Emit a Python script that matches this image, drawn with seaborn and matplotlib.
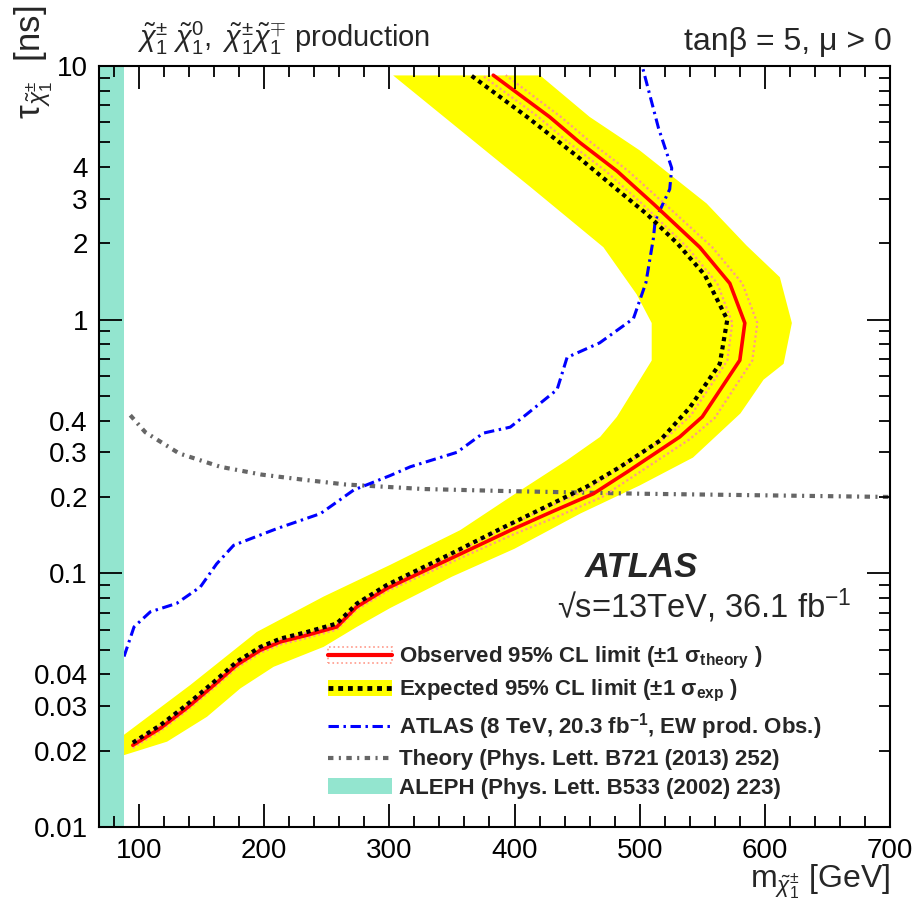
import matplotlib
matplotlib.use('Agg')
import matplotlib.pyplot as plt
import seaborn as sns
from matplotlib.lines import Line2D
from matplotlib.patches import Patch, Rectangle
from matplotlib.collections import LineCollection
from matplotlib.transforms import blended_transform_factory

# observed 95% CL limit (chargino mass [GeV], lifetime [ns])
obs_m = [95, 117, 138, 160, 178, 197, 213, 234, 258, 274, 298, 350, 397, 430, 463, 490,
         532, 550, 580, 584, 572, 548, 511, 482, 452, 428, 383]
obs_tau = [0.021, 0.0245, 0.0294, 0.0363, 0.0435, 0.0498, 0.0537, 0.057, 0.0615, 0.0738,
           0.0872, 0.115, 0.148, 0.175, 0.206, 0.251, 0.345, 0.414, 0.692, 0.97, 1.39,
           1.93, 2.86, 3.85, 5.0, 6.3, 9.2]

# observed +1 sigma theory
obs_up_m = [95, 117, 138, 160, 178, 197, 213, 234, 258, 274, 298, 350, 400, 435, 470, 497,
            540, 560, 590, 594, 582, 558, 520, 491, 461, 437, 393]
obs_up_tau = [0.0205, 0.0239, 0.0287, 0.0354, 0.0424, 0.0486, 0.0524, 0.0556, 0.06, 0.072,
              0.085, 0.111, 0.143, 0.168, 0.2, 0.245, 0.338, 0.41, 0.69, 0.97, 1.39,
              1.93, 2.86, 3.85, 5.0, 6.3, 9.2]

# observed -1 sigma theory
obs_dn_m = [95, 117, 138, 160, 178, 197, 213, 234, 258, 274, 298, 350, 392, 422, 455, 482,
            524, 541, 570, 574, 562, 538, 502, 473, 443, 419, 374]
obs_dn_tau = [0.0215, 0.0251, 0.0301, 0.0372, 0.0446, 0.051, 0.055, 0.0584, 0.063, 0.0756,
              0.089, 0.119, 0.151, 0.178, 0.21, 0.256, 0.352, 0.42, 0.69, 0.97, 1.39,
              1.93, 2.86, 3.85, 5.0, 6.3, 9.2]

# expected 95% CL limit
exp_m = [95, 117, 138, 160, 178, 197, 213, 234, 258, 274, 298, 350, 389, 420, 458, 484,
         516, 540, 564, 570, 552, 530, 506, 479, 452, 410, 365]
exp_tau = [0.0215, 0.0252, 0.0303, 0.0374, 0.0448, 0.0513, 0.0553, 0.0587, 0.0634, 0.076,
           0.09, 0.12, 0.15, 0.178, 0.22, 0.262, 0.333, 0.45, 0.67, 1.0, 1.5, 2.0, 2.6,
           3.35, 4.33, 6.3, 9.2]

# +-1 sigma expected band: inner (upper-left) and outer (lower-right) edges
band_in_m = [88, 141, 194, 247.5, 300.7, 356.6, 396.6, 441.8, 468.4, 481.8, 509.6, 509.6,
             497.5, 471, 412.5, 383, 303]
band_in_tau = [0.0231, 0.0363, 0.0587, 0.081, 0.108, 0.148, 0.2, 0.279, 0.345, 0.414, 0.69,
               0.97, 1.26, 1.93, 3.34, 4.38, 9.18]
band_out_m = [88, 122.4, 154.3, 181, 207.5, 247.5, 274, 300.7, 350, 400, 452.5, 500, 542.6,
              580.5, 599, 615, 621.6, 612, 585.4, 553.5, 500, 460, 420.5]
band_out_tau = [0.0192, 0.0217, 0.0272, 0.0352, 0.0428, 0.0513, 0.0615, 0.073, 0.097, 0.125,
                0.172, 0.222, 0.286, 0.427, 0.58, 0.67, 0.97, 1.47, 1.96, 2.87, 4.65, 6.3,
                9.18]

# ATLAS 8 TeV observed
atlas8_m = [88, 96, 109, 130, 149, 162, 175.6, 210, 245, 271.5, 300.7, 316.7, 354, 375,
            396.6, 410, 434, 442, 468, 495, 505, 511, 512.4, 524, 525.6, 515, 502]
atlas8_tau = [0.047, 0.0615, 0.0705, 0.0761, 0.0884, 0.109, 0.129, 0.15, 0.172, 0.213,
              0.243, 0.263, 0.30, 0.357, 0.377, 0.425, 0.53, 0.71, 0.81, 1.01, 1.4, 2.1,
              2.46, 3.27, 3.96, 5.7, 10.0]

# theory curve
theory_m = [93, 105, 132, 165, 198, 231, 265, 327, 394, 500, 600, 700]
theory_tau = [0.42, 0.36, 0.297, 0.263, 0.245, 0.234, 0.224, 0.215, 0.211, 0.206, 0.203, 0.2]

aleph_limit = 88

x_major = [100, 200, 300, 400, 500, 600, 700]
x_minor = [m for m in range(80, 701, 20) if m % 100 != 0]
y_major = [0.01, 0.1, 1, 10]
y_major_labels = ['0.01', '0.1', '1', '10']
y_minor = [0.02, 0.03, 0.04, 0.05, 0.06, 0.07, 0.08, 0.09,
           0.2, 0.3, 0.4, 0.5, 0.6, 0.7, 0.8, 0.9,
           2, 3, 4, 5, 6, 7, 8, 9]
y_minor_labels = ['0.02', '0.03', '0.04', '', '', '', '', '',
                  '0.2', '0.3', '0.4', '', '', '', '', '',
                  '2', '3', '4', '', '', '', '', '']

sns.set_theme(style='ticks')
plt.rcParams['font.family'] = ['Liberation Sans', 'DejaVu Sans']
plt.rcParams['mathtext.fontset'] = 'custom'
plt.rcParams['mathtext.rm'] = 'Liberation Sans'
plt.rcParams['mathtext.it'] = 'Liberation Sans:italic'
plt.rcParams['mathtext.bf'] = 'Liberation Sans:bold'

fig = plt.figure(figsize=(9.15, 9.11), dpi=100)
ax = fig.add_axes([99 / 915, 84 / 911, 791 / 915, 761 / 911])

yellow = '#ffff00'
aleph_col = '#93e5cf'
salmon = '#ff9a8a'

# expected band
ax.fill(band_in_m + band_out_m[::-1], band_in_tau + band_out_tau[::-1],
        color=yellow, lw=0, zorder=1)

sns.lineplot(x=theory_m, y=theory_tau, sort=False, estimator=None, ax=ax,
             color='#666666', lw=3, linestyle=(0, (1.3, 1.3, 0.5, 1.3)), zorder=2)
sns.lineplot(x=atlas8_m, y=atlas8_tau, sort=False, estimator=None, ax=ax,
             color='#0000ff', lw=2.2, linestyle=(0, (3.4, 1.5, 0.8, 1.5)), zorder=3)
sns.lineplot(x=obs_up_m, y=obs_up_tau, sort=False, estimator=None, ax=ax,
             color=salmon, lw=1.6, linestyle=(0, (1, 1.2)), zorder=4)
sns.lineplot(x=obs_dn_m, y=obs_dn_tau, sort=False, estimator=None, ax=ax,
             color=salmon, lw=1.6, linestyle=(0, (1, 1.2)), zorder=4)
sns.lineplot(x=obs_m, y=obs_tau, sort=False, estimator=None, ax=ax,
             color='#ff0000', lw=2.6, zorder=5)
sns.lineplot(x=exp_m, y=exp_tau, sort=False, estimator=None, ax=ax,
             color='black', lw=3, linestyle=(0, (1, 1)), zorder=6)

ax.axvspan(60, aleph_limit, color=aleph_col, lw=0, zorder=7)

ax.set_yscale('log')
ax.set_xlim(68, 700)
ax.set_ylim(0.01, 10)
ax.set_xticks(x_major)
ax.set_xticklabels([str(v) for v in x_major])
ax.set_xticks([], minor=True)
ax.set_yticks(y_major)
ax.set_yticklabels(y_major_labels)
ax.set_yticks(y_minor, minor=True)
ax.set_yticklabels(y_minor_labels, minor=True)

# tick labels from matplotlib; inward tick marks (ROOT style) drawn on top at figure level
ax.tick_params(which='both', direction='in', length=0, labelsize=20, pad=8,
               colors='black')
bx = blended_transform_factory(ax.transData, ax.transAxes)
by = blended_transform_factory(ax.transAxes, ax.transData)
maj_x, min_x = 23 / 761, 11 / 761
maj_y, min_y = 23 / 791, 11 / 791
segs_x = ([[(x, 0), (x, maj_x)] for x in x_major] +
          [[(x, 1 - maj_x), (x, 1)] for x in x_major] +
          [[(x, 0), (x, min_x)] for x in x_minor] +
          [[(x, 1 - min_x), (x, 1)] for x in x_minor])
segs_y = ([[(0, y), (maj_y, y)] for y in y_major] +
          [[(1 - maj_y, y), (1, y)] for y in y_major] +
          [[(0, y), (min_y, y)] for y in y_minor] +
          [[(1 - min_y, y), (1, y)] for y in y_minor])
fig.add_artist(LineCollection(segs_x, colors='black', linewidths=1.3, transform=bx,
                              zorder=20))
fig.add_artist(LineCollection(segs_y, colors='black', linewidths=1.3, transform=by,
                              zorder=20))

for s in ax.spines.values():
    s.set_linewidth(1.5)
    s.set_color('black')
    s.set_zorder(13)

ax.set_xlabel(r'm$_{\tilde{\chi}^{\pm}_{1}}$ [GeV]', fontsize=23, loc='right')
ax.xaxis.set_label_coords(1.0, -0.047)
ax.set_ylabel(r'τ$_{\tilde{\chi}^{\pm}_{1}}$  [ns]', fontsize=25, loc='top')
ax.yaxis.set_label_coords(-0.056, 1.08)

fig.text(137 / 915, 1 - 47 / 911,
         r'$\tilde{\chi}^{\pm}_{1}\ \tilde{\chi}^{0}_{1},\ \tilde{\chi}^{\pm}_{1}\tilde{\chi}^{\mp}_{1}$ production',
         fontsize=21, ha='left', va='baseline')
fig.text(892 / 915, 1 - 50 / 911, 'tanβ = 5, μ > 0',
         fontsize=23, ha='right', va='baseline')

fig.text(585 / 915, 1 - 577 / 911, 'ATLAS', fontsize=25, fontweight='bold',
         fontstyle='italic', ha='left', va='baseline')
fig.text(557 / 915, 1 - 618 / 911, '√s=13TeV, 36.1 fb$^{-1}$', fontsize=23.5,
         ha='left', va='baseline')

h_obs = (Rectangle((0, 0), 1, 1, facecolor='none', edgecolor=salmon, linestyle=':', lw=1.2),
         Line2D([], [], color='#ff0000', lw=3))
h_exp = (Patch(facecolor=yellow, edgecolor='none'),
         Line2D([], [], color='black', lw=3.5, linestyle=(0, (1, 1))))
h_atl = Line2D([], [], color='#0000ff', lw=2.2, linestyle=(0, (3.4, 1.5, 0.8, 1.5)))
h_th = Line2D([], [], color='#666666', lw=3, linestyle=(0, (1.3, 1.3, 0.5, 1.3)))
h_al = Patch(facecolor=aleph_col, edgecolor='none')

labels = [r'Observed 95% CL limit ($\mathbf{\pm}$1 $\mathbf{\sigma_{theory}}$ )',
          r'Expected 95% CL limit ($\mathbf{\pm}$1 $\mathbf{\sigma_{exp}}$ )',
          r'ATLAS (8 TeV, 20.3 fb$^{\mathbf{-1}}$, EW prod. Obs.)',
          'Theory (Phys. Lett. B721 (2013) 252)',
          'ALEPH (Phys. Lett. B533 (2002) 223)']
leg = fig.legend([h_obs, h_exp, h_atl, h_th, h_al], labels, loc='upper left',
                 bbox_to_anchor=(328 / 915, 1 - 645 / 911), frameon=False,
                 prop={'weight': 'bold', 'size': 16}, handlelength=2.9,
                 handletextpad=0.3, labelspacing=0.32, borderpad=0, borderaxespad=0)

fig.savefig('out.png', dpi=100)
